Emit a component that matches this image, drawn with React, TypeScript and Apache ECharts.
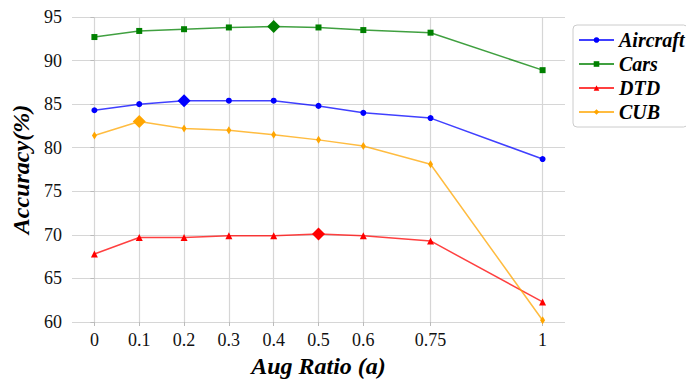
import React, { useEffect, useRef } from "react";
import * as echarts from "echarts";

const ratios = [0, 0.1, 0.2, 0.3, 0.4, 0.5, 0.6, 0.75, 1];
const xTicks = [0, 0.1, 0.2, 0.3, 0.4, 0.5, 0.6, 0.75, 1];
const seriesNames = ["Aircraft", "Cars", "DTD", "CUB"];
const aircraft = [84.3, 85.0, 85.4, 85.4, 85.4, 84.8, 84.0, 83.4, 78.7];
const cars = [92.7, 93.4, 93.6, 93.8, 93.9, 93.8, 93.5, 93.2, 88.9];
const dtd = [67.8, 69.7, 69.7, 69.9, 69.9, 70.1, 69.9, 69.3, 62.3];
const cub = [81.4, 83.0, 82.2, 82.0, 81.5, 80.9, 80.2, 78.1, 60.2];
const bestIndex = [2, 4, 5, 1];
const colors = ["#0000ff", "#008000", "#ff0000", "#ffa500"];

const SERIF = "Liberation Serif";

export default function App() {
  const ref = useRef<HTMLDivElement>(null);
  useEffect(() => {
    if (!ref.current) return;
    const chart = echarts.init(ref.current, undefined, { renderer: "svg" });
    const values = [aircraft, cars, dtd, cub];
    const symbols: any[] = ["circle", "rect", "triangle", "path://M0,-1L0.6,0L0,1L-0.6,0Z"];
    const sizes: any[] = [6, 6, 7, [5, 8]];
    const series = values.map((vals, si) => ({
      type: "line",
      name: seriesNames[si],
      symbol: symbols[si],
      symbolSize: sizes[si],
      color: colors[si],
      lineStyle: { width: 1.5, color: colors[si], opacity: 0.75 },
      itemStyle: { color: colors[si] },
      data: vals.map((v, i) =>
        i === bestIndex[si]
          ? { value: [ratios[i], v], symbol: "diamond", symbolSize: 13 }
          : { value: [ratios[i], v] }
      ),
      z: 3,
    }));
    chart.setOption({
      animation: false,
      backgroundColor: "#ffffff",
      grid: { left: 72, right: 121, top: 17, bottom: 61 },
      legend: {
        orient: "vertical",
        left: 573,
        top: 25,
        data: seriesNames,
        itemWidth: 35,
        itemHeight: 7,
        itemGap: 4,
        padding: [5, 3, 5, 5],
        borderColor: "#cccccc",
        borderWidth: 1,
        borderRadius: 4,
        backgroundColor: "#ffffff",
        textStyle: {
          fontFamily: SERIF,
          fontSize: 20,
          fontWeight: "bold",
          fontStyle: "italic",
          color: "#000",
          lineHeight: 20,
        },
      },
      xAxis: {
        type: "value",
        min: -0.05,
        max: 1.05,
        name: "Aug Ratio (a)",
        nameLocation: "middle",
        nameGap: 32,
        nameTextStyle: {
          fontFamily: SERIF,
          fontSize: 24,
          fontWeight: "bold",
          fontStyle: "italic",
          color: "#000",
        },
        axisLine: { show: false },
        axisTick: { show: true, length: 4, customValues: xTicks, lineStyle: { color: "#bbbbbb" } },
        axisLabel: {
          customValues: xTicks,
          margin: 9,
          fontFamily: SERIF,
          fontSize: 18,
          color: "#111",
          formatter: (v: number) => String(v),
        },
        splitLine: { show: true, lineStyle: { color: "#d6d6d6", width: 1.2 } },
      },
      yAxis: {
        type: "value",
        min: 60,
        max: 95,
        interval: 5,
        name: "Accuracy(%)",
        nameLocation: "middle",
        nameRotate: 90,
        nameGap: 36,
        nameTextStyle: {
          fontFamily: SERIF,
          fontSize: 24,
          fontWeight: "bold",
          fontStyle: "italic",
          color: "#000",
        },
        axisLine: { show: false },
        axisTick: { show: true, length: 4, lineStyle: { color: "#bbbbbb" } },
        axisLabel: { margin: 10, fontFamily: SERIF, fontSize: 18, color: "#111" },
        splitLine: { show: true, lineStyle: { color: "#d6d6d6", width: 1.2 } },
      },
      series,
    });
    return () => chart.dispose();
  }, []);
  return (
    <div
      ref={ref}
      style={{ position: "absolute", left: 0, top: 0, width: 686, height: 383 }}
    />
  );
}
